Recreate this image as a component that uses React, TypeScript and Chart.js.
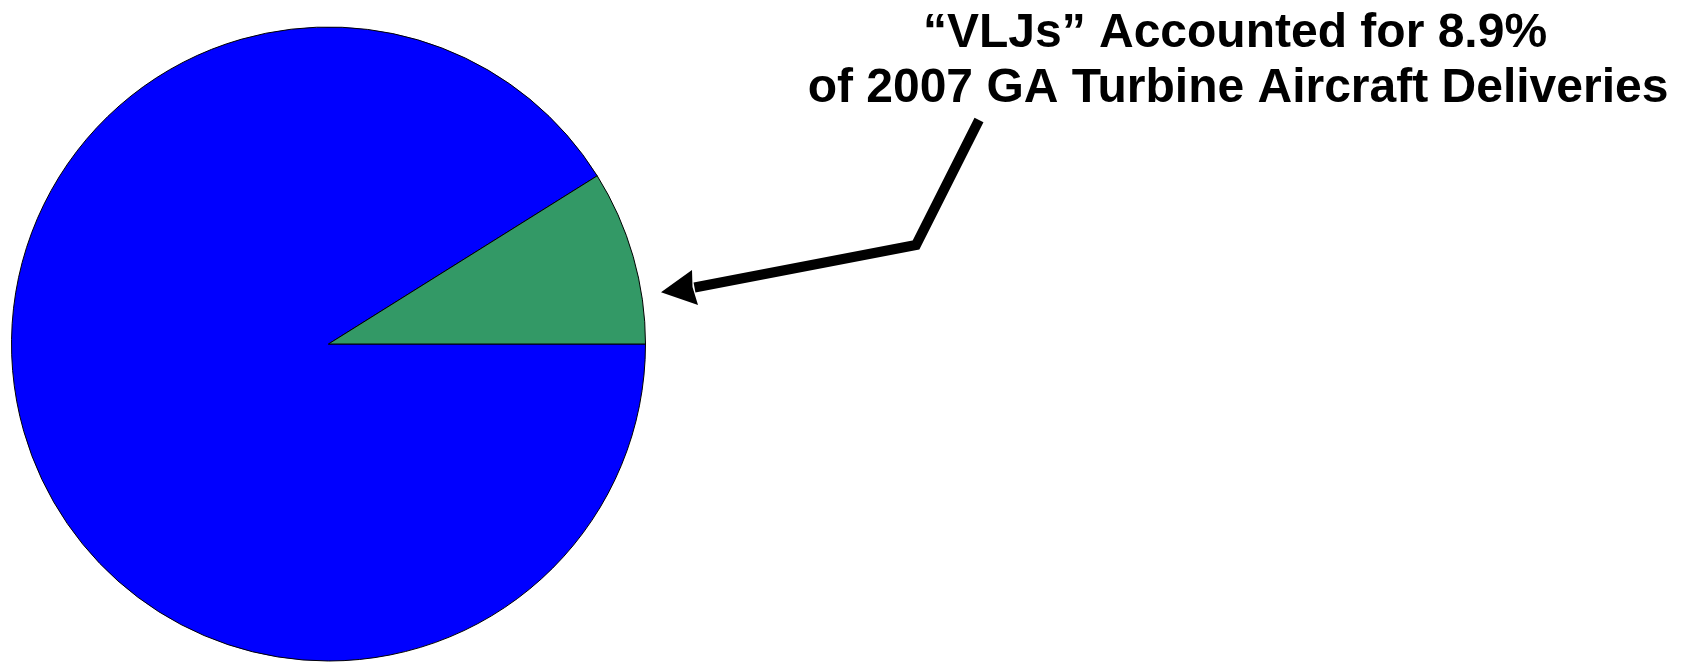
import React, { useEffect, useRef } from "react";
import { Chart, registerables } from "chart.js";

Chart.register(...registerables);

const categories = ["Other GA Turbine Aircraft", "VLJs"];
const shares = [91.1, 8.9];
const sliceColors = ["#0000FF", "#339966"];
const titleLines = ["\u201CVLJs\u201D Accounted for 8.9%", "of 2007 GA Turbine Aircraft Deliveries"];

const calloutPlugin = {
  id: "callout",
  afterDraw(chart: any) {
    const ctx = chart.ctx as CanvasRenderingContext2D;
    const arc = chart.getDatasetMeta(0).data[1] as any;
    if (!arc) return;
    const cx = arc.x;
    const cy = arc.y;
    const r = arc.outerRadius;
    const p = (dx: number, dy: number) => [cx + (dx * r) / 317, cy + (dy * r) / 317];

    ctx.save();
    // arrow line
    const a = p(650.5, -224);
    const b = p(587.5, -99);
    const c = p(366, -56.5);
    ctx.strokeStyle = "#000";
    ctx.lineWidth = 10;
    ctx.lineJoin = "miter";
    ctx.lineCap = "butt";
    ctx.beginPath();
    ctx.moveTo(a[0], a[1]);
    ctx.lineTo(b[0], b[1]);
    ctx.lineTo(c[0], c[1]);
    ctx.stroke();
    // arrow head
    const tip = p(332.5, -51.7);
    const up = p(363.5, -74);
    const notch = p(364, -57);
    const low = p(369.5, -39);
    ctx.fillStyle = "#000";
    ctx.beginPath();
    ctx.moveTo(tip[0], tip[1]);
    ctx.lineTo(up[0], up[1]);
    ctx.lineTo(notch[0], notch[1]);
    ctx.lineTo(low[0], low[1]);
    ctx.closePath();
    ctx.fill();

    // title text
    ctx.font = "bold 48px 'Liberation Sans', Arial, sans-serif";
    ctx.textAlign = "center";
    ctx.textBaseline = "alphabetic";
    ctx.fillText(titleLines[0], 1235, 47);
    ctx.fillText(titleLines[1], 1238, 102);
    ctx.restore();
  },
};

export default function App() {
  const ref = useRef<HTMLCanvasElement | null>(null);
  useEffect(() => {
    if (!ref.current) return;
    const chart = new Chart(ref.current, {
      type: "pie",
      data: {
        labels: categories,
        datasets: [
          {
            data: shares,
            backgroundColor: sliceColors,
            borderColor: "#000000",
            borderWidth: 1,
          },
        ],
      },
      options: {
        animation: false,
        responsive: false,
        rotation: 90,
        radius: 317,
        layout: { padding: { left: 11, top: 27, bottom: 1, right: 1042 } },
        plugins: {
          legend: { display: false },
          tooltip: { enabled: false },
          title: { display: false },
        },
      },
      plugins: [calloutPlugin],
    });
    return () => chart.destroy();
  }, []);
  return (
    <div style={{ position: "fixed", left: 0, top: 0, width: 1688, height: 662, background: "#fff" }}>
      <canvas ref={ref} width={1688} height={662} style={{ width: 1688, height: 662, display: "block" }} />
    </div>
  );
}
